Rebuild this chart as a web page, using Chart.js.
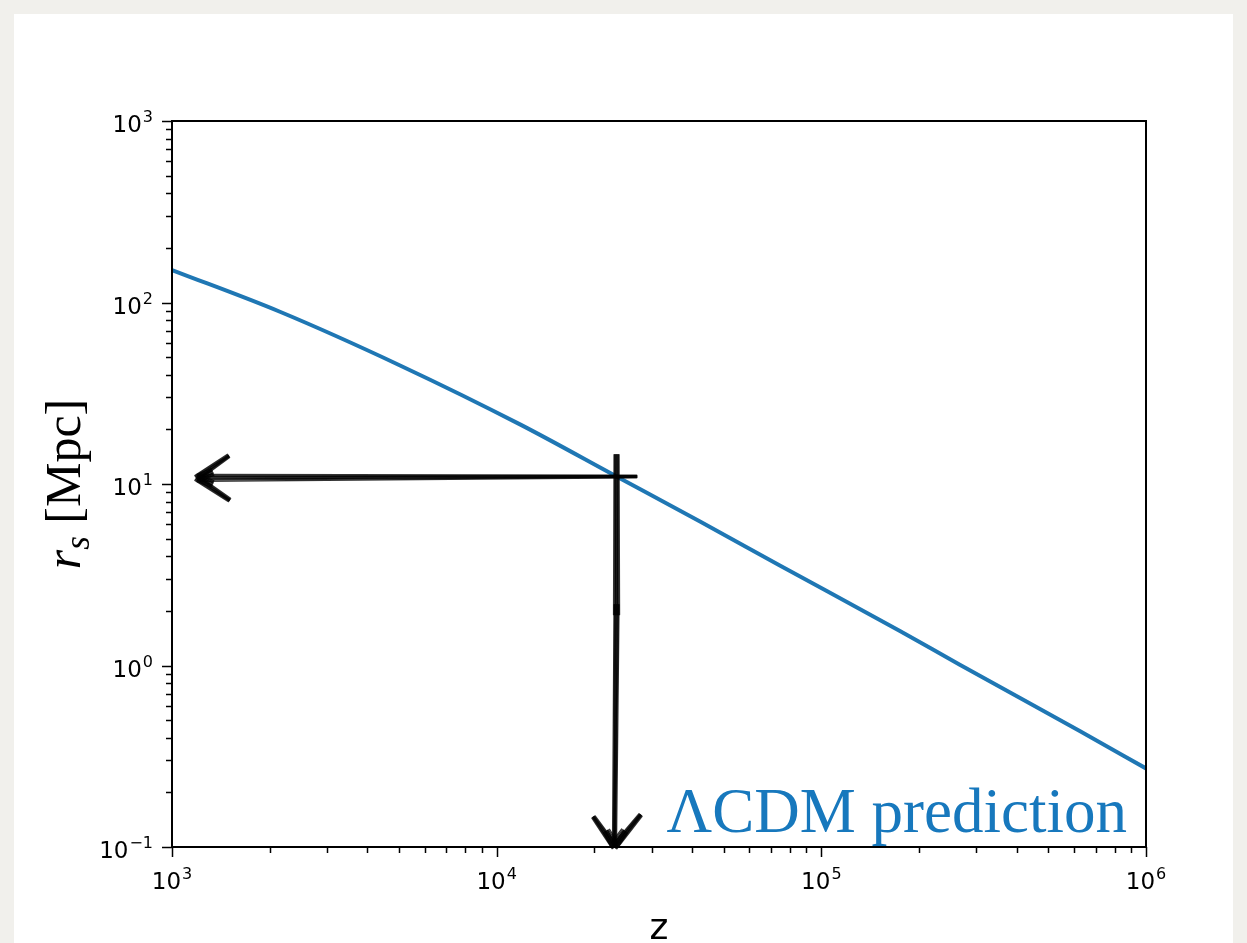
<!DOCTYPE html>
<html lang="en">
<head>
  <meta charset="UTF-8">
  <title>Sound horizon r_s vs z</title>
  <script src="https://cdn.jsdelivr.net/npm/chart.js"></script>
  <style>
    html, body { margin: 0; padding: 0; }
    body {
      width: 1247px;
      height: 943px;
      overflow: hidden;
      position: relative;
      background: #f1f0ec;
    }
    .panel {
      position: absolute;
      left: 14px;
      top: 14px;
      width: 1219px;
      height: 940px;
      background: #fff;
    }
    #wrap {
      position: absolute;
      left: 0;
      top: 0;
    }
  </style>
</head>
<body>
  <div class="panel"></div>
  <div id="wrap"><canvas id="rsChart" width="1247" height="943"></canvas></div>

  <script>
    // curve
    const zValues  = [1000, 2150, 5040, 11800, 23400, 42300, 74500, 174600, 267000, 625000, 1000000];
    const rsValues = [151, 88.9, 45.0, 21.3, 11.0, 6.21, 3.56, 1.55, 1.01, 0.436, 0.271];

    // tick positions and their exponents (labels are drawn as 10^n)
    const xTicks = [1e3, 1e4, 1e5, 1e6];
    const xTickExp = ['3', '4', '5', '6'];
    const yTicks = [1e-1, 1e0, 1e1, 1e2, 1e3];
    const yTickExp = ['−1', '0', '1', '2', '3'];

    // hand drawn arrows (data coords)
    const arrowLeftZ  = [27000, 1190];
    const arrowLeftRs = [11.0, 10.8];
    const arrowDownZ  = [23400, 23400];
    const arrowDownRs = [14.5, 0.1];

    const curveBlue = '#1f77b4';
    const noteBlue = '#1778bd';

    const baseFont = '23px "DejaVu Sans", sans-serif';
    const supFont = '16px "DejaVu Sans", sans-serif';

    function roughLine(ctx, x1, y1, x2, y2, w1, w2) {
      if (w2 === undefined) w2 = w1;
      const dx = x2 - x1, dy = y2 - y1;
      const len = Math.hypot(dx, dy) || 1;
      const nx = -dy / len, ny = dx / len;
      const n = 9;
      for (let i = 0; i < n; i++) {
        const o = i / (n - 1) - 0.5;
        const wob = (i % 3 - 1) * 0.5;
        ctx.beginPath();
        ctx.moveTo(x1 + nx * o * w1, y1 + ny * o * w1);
        ctx.lineTo(x2 + nx * (o * w2 + wob), y2 + ny * (o * w2 + wob));
        ctx.stroke();
      }
    }

    function powLabel(ctx, exp, x, baseY, align) {
      ctx.font = baseFont;
      const wb = ctx.measureText('10').width;
      ctx.font = supFont;
      const ws = ctx.measureText(exp).width + 1;
      let left = align === 'center' ? x - (wb + ws) / 2 : x - wb - ws;
      ctx.textAlign = 'left';
      ctx.textBaseline = 'alphabetic';
      ctx.font = baseFont;
      ctx.fillText('10', left, baseY);
      ctx.font = supFont;
      ctx.fillText(exp, left + wb + 1, baseY - 10);
    }

    const decor = {
      id: 'decor',
      afterDraw(chart) {
        const { ctx, chartArea: a, scales: { x, y } } = chart;
        ctx.save();

        // frame
        ctx.strokeStyle = '#000';
        ctx.lineWidth = 2;
        ctx.strokeRect(a.left, a.top, a.right - a.left, a.bottom - a.top);

        // ticks, outside, left and bottom only
        ctx.lineWidth = 1.5;
        ctx.beginPath();
        for (let e = 3; e <= 6; e++) {
          for (let m = 1; m <= 9; m++) {
            const v = m * Math.pow(10, e);
            if (v > 1e6) break;
            const px = Math.round(x.getPixelForValue(v)) + 0.5;
            ctx.moveTo(px, a.bottom);
            ctx.lineTo(px, a.bottom + (m === 1 ? 10 : 6));
          }
        }
        for (let e = -1; e <= 3; e++) {
          for (let m = 1; m <= 9; m++) {
            const v = m * Math.pow(10, e);
            if (v > 1e3) break;
            const py = Math.round(y.getPixelForValue(v)) + 0.5;
            ctx.moveTo(a.left, py);
            ctx.lineTo(a.left - (m === 1 ? 10 : 6), py);
          }
        }
        ctx.stroke();

        // tick labels
        ctx.fillStyle = '#000';
        xTicks.forEach((v, i) => powLabel(ctx, xTickExp[i], x.getPixelForValue(v), a.bottom + 42, 'center'));
        yTicks.forEach((v, i) => powLabel(ctx, yTickExp[i], a.left - 19, y.getPixelForValue(v) + 11, 'right'));

        // arrows
        ctx.strokeStyle = 'rgba(0,0,0,0.8)';
        ctx.lineCap = 'round';
        ctx.lineWidth = 1.3;
        const hx1 = x.getPixelForValue(arrowLeftZ[0]), hx2 = x.getPixelForValue(arrowLeftZ[1]);
        const hy1 = y.getPixelForValue(arrowLeftRs[0]), hy2 = y.getPixelForValue(arrowLeftRs[1]);
        roughLine(ctx, hx1, hy1, hx2 + 6, hy2, 2.5, 6);
        roughLine(ctx, hx2, hy2, hx2 + 32, hy2 - 22, 6, 3);
        roughLine(ctx, hx2, hy2, hx2 + 33, hy2 + 22, 6, 3);
        roughLine(ctx, hx2 + 2, hy2, hx2 + 16, hy2 - 6, 8, 6);
        roughLine(ctx, hx2 + 2, hy2, hx2 + 16, hy2 + 6, 8, 6);

        const vx1 = x.getPixelForValue(arrowDownZ[0]), vx2 = x.getPixelForValue(arrowDownZ[1]);
        const vy1 = y.getPixelForValue(arrowDownRs[0]), vy2 = y.getPixelForValue(arrowDownRs[1]);
        roughLine(ctx, vx1, vy1, vx1, vy1 + 160, 5, 5);
        roughLine(ctx, vx1, vy1 + 150, vx2 - 2, vy2 - 6, 5, 3);
        roughLine(ctx, vx2 - 2, vy2, vx2 - 23, vy2 - 30, 6, 3);
        roughLine(ctx, vx2 - 2, vy2, vx2 + 24, vy2 - 32, 6, 3);
        roughLine(ctx, vx2 - 2, vy2 - 2, vx2 - 10, vy2 - 16, 8, 6);
        roughLine(ctx, vx2 - 2, vy2 - 2, vx2 + 8, vy2 - 16, 8, 6);

        // annotation
        ctx.fillStyle = noteBlue;
        ctx.font = '63px "Liberation Serif", "DejaVu Serif", serif';
        ctx.textAlign = 'right';
        ctx.textBaseline = 'alphabetic';
        ctx.fillText('ΛCDM prediction', a.right - 19, a.bottom - 15);

        // x label
        ctx.fillStyle = '#000';
        ctx.font = '36px "DejaVu Sans", sans-serif';
        ctx.textAlign = 'center';
        ctx.fillText('z', (a.left + a.right) / 2, 939);

        // y label: r_s [Mpc]
        const big = '50px "Liberation Serif", serif';
        const bigIt = 'italic 50px "Liberation Serif", serif';
        const subIt = 'italic 35px "Liberation Serif", serif';
        ctx.font = bigIt; const wr = ctx.measureText('r').width;
        ctx.font = subIt; const ws = ctx.measureText('s').width;
        ctx.font = big; const wm = ctx.measureText(' [Mpc]').width;
        const total = wr + ws + wm;
        ctx.translate(80, (a.top + a.bottom) / 2);
        ctx.rotate(-Math.PI / 2);
        ctx.textAlign = 'left';
        let cx = -total / 2;
        ctx.font = bigIt; ctx.fillText('r', cx, 0); cx += wr;
        ctx.font = subIt; ctx.fillText('s', cx, 9); cx += ws;
        ctx.font = big; ctx.fillText(' [Mpc]', cx, 0);

        ctx.restore();
      }
    };

    const ctx = document.getElementById('rsChart').getContext('2d');
    new Chart(ctx, {
      type: 'line',
      data: {
        datasets: [{
          label: 'r_s',
          data: zValues.map((z, i) => ({ x: z, y: rsValues[i] })),
          borderColor: curveBlue,
          borderWidth: 4,
          pointRadius: 0,
          fill: false,
          cubicInterpolationMode: 'monotone'
        }]
      },
      options: {
        responsive: false,
        animation: false,
        layout: { padding: { top: 121, right: 101, left: 0, bottom: 0 } },
        plugins: {
          legend: { display: false },
          tooltip: { enabled: false }
        },
        scales: {
          x: {
            type: 'logarithmic',
            min: 1e3,
            max: 1e6,
            afterFit(s) { s.height = 96; },
            afterBuildTicks(s) { s.ticks = xTicks.map(v => ({ value: v })); },
            grid: { display: false, drawTicks: false },
            border: { display: false },
            ticks: { display: false }
          },
          y: {
            type: 'logarithmic',
            min: 1e-1,
            max: 1e3,
            afterFit(s) { s.width = 172; },
            afterBuildTicks(s) { s.ticks = yTicks.map(v => ({ value: v })); },
            grid: { display: false, drawTicks: false },
            border: { display: false },
            ticks: { display: false }
          }
        }
      },
      plugins: [decor]
    });
  </script>
</body>
</html>
